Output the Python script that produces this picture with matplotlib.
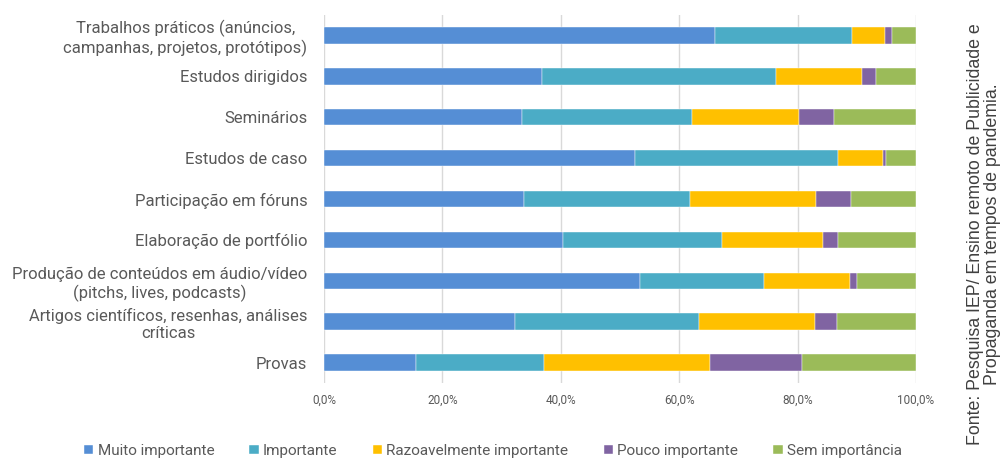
import matplotlib
matplotlib.use("Agg")
import matplotlib.pyplot as plt
from matplotlib.ticker import FuncFormatter
import numpy as np

categories = [
    "Trabalhos práticos (anúncios,\ncampanhas, projetos, protótipos)",
    "Estudos dirigidos",
    "Seminários",
    "Estudos de caso",
    "Participação em fóruns",
    "Elaboração de portfólio",
    "Produção de conteúdos em áudio/vídeo\n(pitchs, lives, podcasts)",
    "Artigos científicos, resenhas, análises\ncríticas",
    "Provas",
]
series_names = ["Muito importante", "Importante", "Razoavelmente importante",
                "Pouco importante", "Sem importância"]
muito = [66.0, 36.8, 33.5, 52.6, 33.8, 40.4, 53.4, 32.3, 15.5]
importante = [23.2, 39.5, 28.6, 34.3, 28.0, 26.8, 21.0, 31.0, 21.7]
razoavel = [5.5, 14.6, 18.2, 7.6, 21.3, 17.1, 14.5, 19.6, 28.0]
pouco = [1.2, 2.4, 5.9, 0.5, 6.0, 2.6, 1.2, 3.7, 15.5]
sem = [4.1, 6.7, 13.8, 5.0, 10.9, 13.1, 9.9, 13.4, 19.3]
xticks = [0, 20, 40, 60, 80, 100]

colors = ["#558ED5", "#4BACC6", "#FFC000", "#8064A2", "#9BBB59"]

plt.rcParams['font.family'] = ['Roboto', 'DejaVu Sans']

fig = plt.figure(figsize=(10.03, 4.58), dpi=100)
ax = fig.add_axes([324/1003, 1-383/458, (916-324)/1003, (383-15)/458])

y = np.arange(len(categories))
left = np.zeros(len(categories))
data = [muito, importante, razoavel, pouco, sem]
for vals, name, c in zip(data, series_names, colors):
    v = np.array(vals)
    ax.barh(y, v, left=left, height=0.4, color=c, label=name, zorder=3,
            edgecolor='white', linewidth=0.3)
    left += v

ax.set_ylim(len(categories) - 0.5, -0.5)
ax.set_xlim(0, 100)
ax.set_xticks(xticks)
ax.xaxis.set_major_formatter(FuncFormatter(lambda v, p: f"{v:.1f}%".replace('.', ',')))
ax.set_yticks(y)
ax.set_yticklabels(categories, fontsize=12, color="#595959", linespacing=1.2,
                   ha='right', multialignment='center')
ax.tick_params(axis='y', length=0, pad=12)
ax.tick_params(axis='x', length=0, labelsize=8.5, colors="#595959", pad=8)
ax.grid(axis='x', color="#D9D9D9", linewidth=1, zorder=0)
for s in ax.spines.values():
    s.set_visible(False)

handles, labels = ax.get_legend_handles_labels()
leg = fig.legend(handles, labels, loc='center', bbox_to_anchor=(493/1003, 1-451/458),
                 ncol=5, frameon=False, fontsize=11, handlelength=0.6,
                 handleheight=0.6, handletextpad=0.3, columnspacing=2.3)
for t in leg.get_texts():
    t.set_color("#595959")

fig.text(984/1003, 1-234/458, "Fonte: Pesquisa IEP/ Ensino remoto de Publicidade e\n"
         "Propaganda em tempos de pandemia.", rotation=90, ha='center',
         va='center', fontsize=12.8, color="#404040", family='Liberation Sans',
         multialignment='center', linespacing=1.05)

fig.savefig("out.png", dpi=100)
